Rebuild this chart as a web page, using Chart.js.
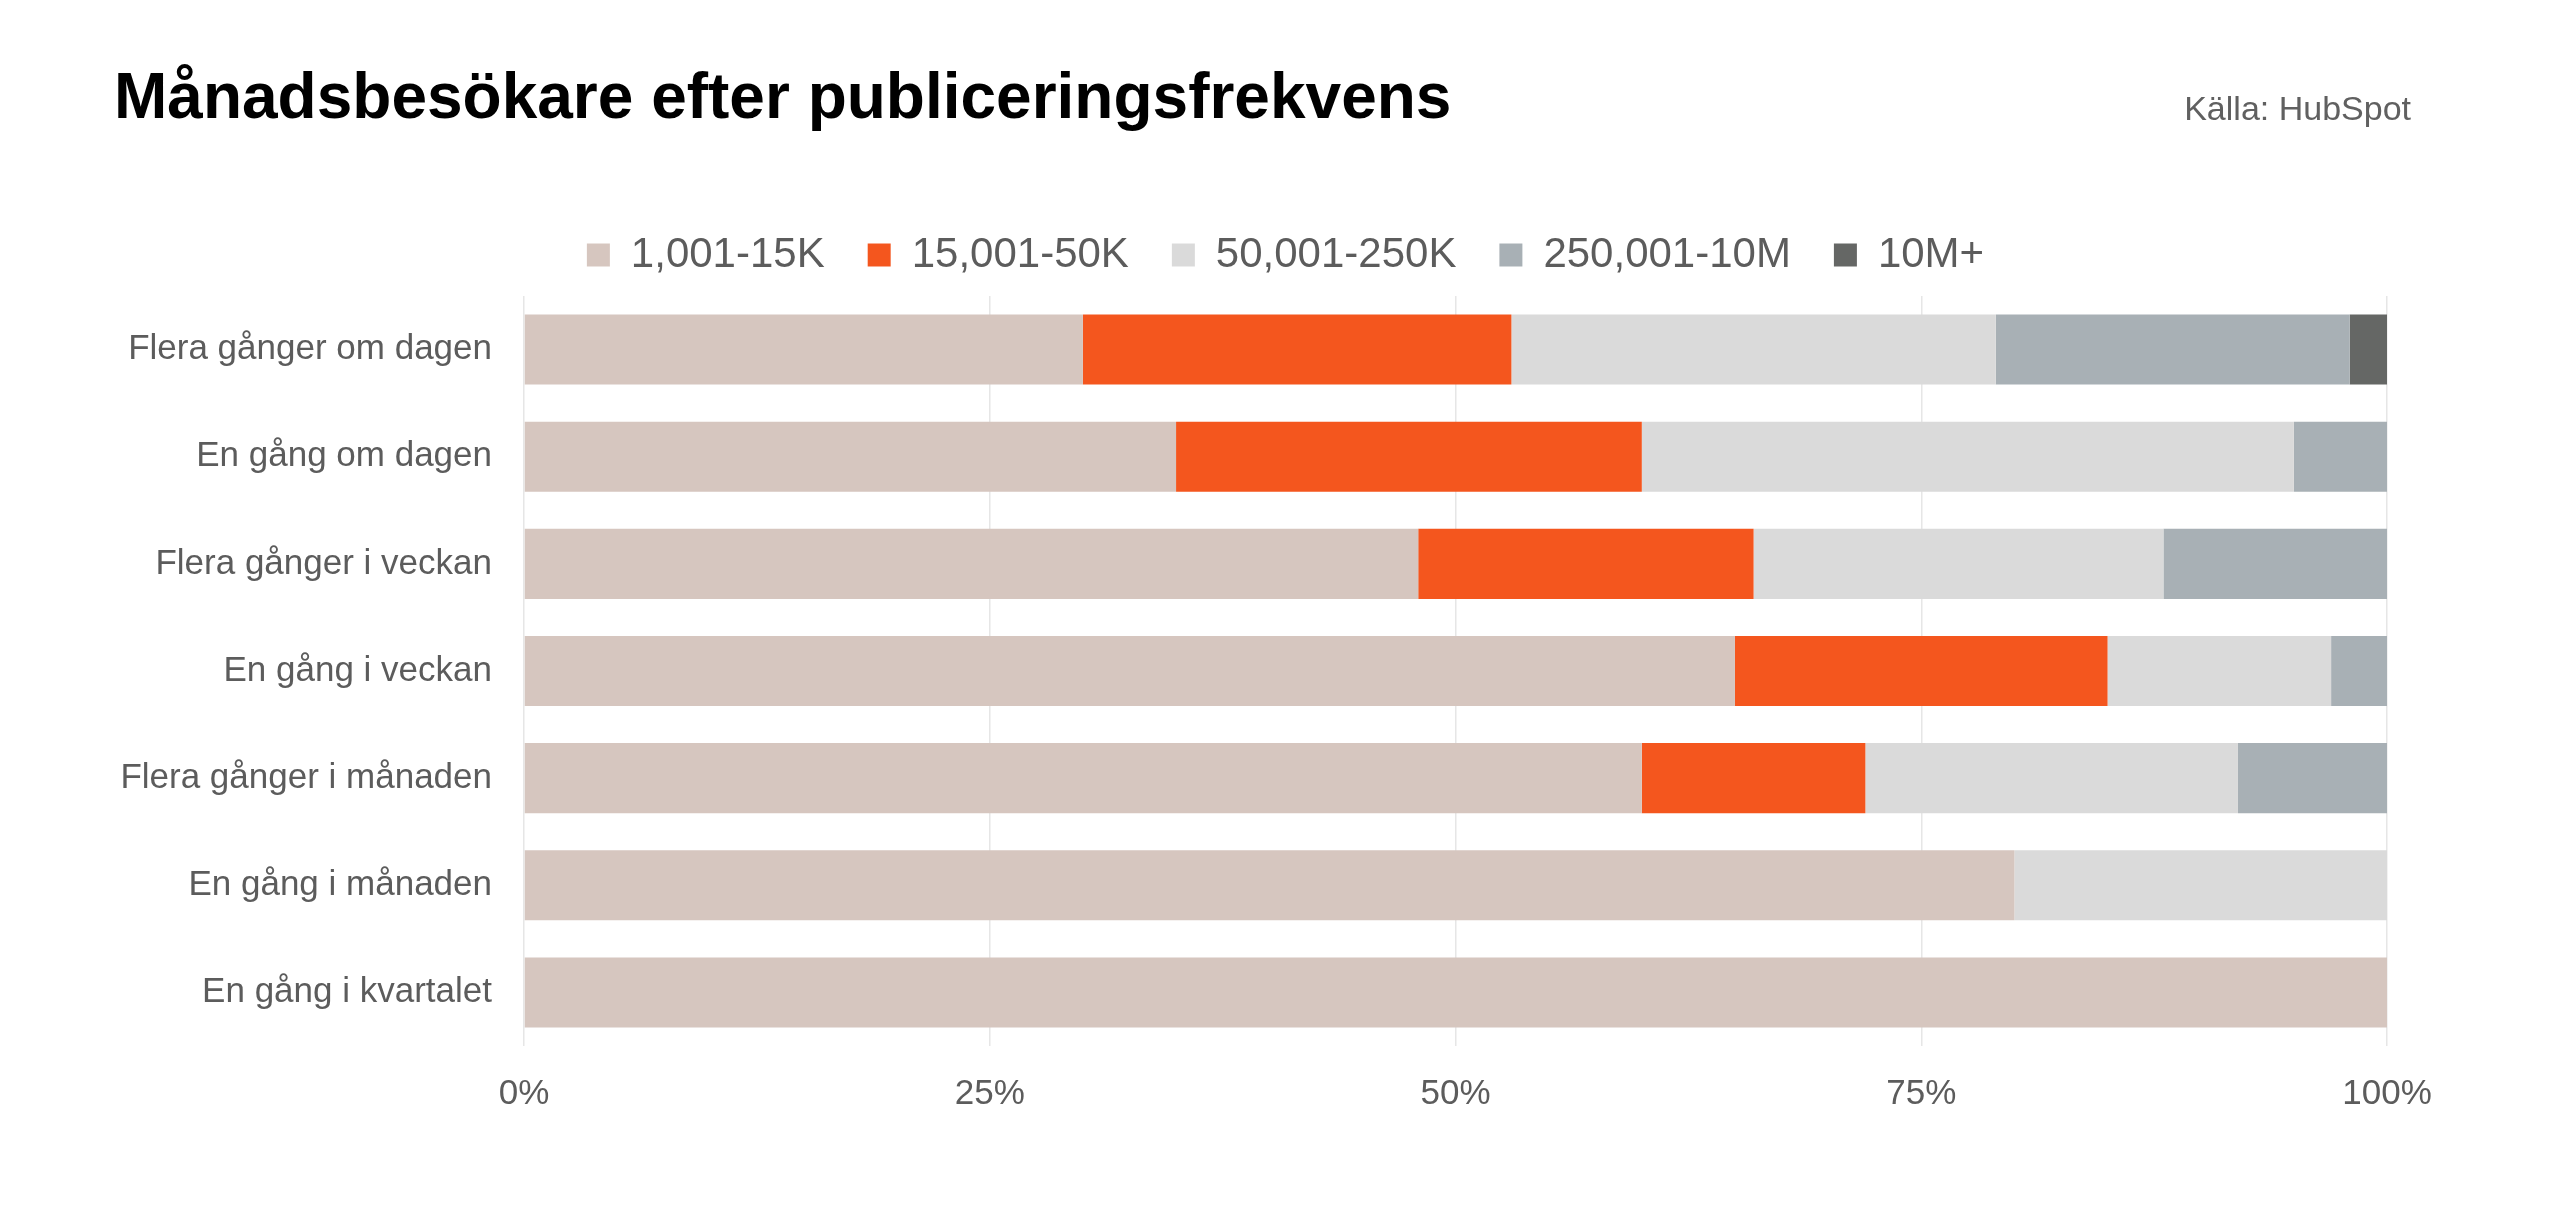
<!DOCTYPE html>
<html>
<head>
<meta charset="utf-8">
<script src="https://cdn.jsdelivr.net/npm/chart.js@4.4.1/dist/chart.umd.min.js"></script>
<style>
  html, body { margin: 0; padding: 0; background: #ffffff; }
  #wrap { position: relative; width: 2560px; height: 1211px; overflow: hidden; }
  #title { position: absolute; left: 114px; top: 64px; font: bold 64px "Liberation Sans", Arial, sans-serif; line-height: 1; color: #000; white-space: nowrap; }
  #source { position: absolute; right: 149px; top: 91px; font: 34px "Liberation Sans", Arial, sans-serif; line-height: 1; color: #606060; white-space: nowrap; }
  canvas { position: absolute; left: 0; top: 0; }
</style>
</head>
<body>
<div id="wrap">
  <canvas id="c" width="2560" height="1211"></canvas>
  <div id="title">Månadsbesökare efter publiceringsfrekvens</div>
  <div id="source">Källa: HubSpot</div>
</div>
<script>
const categories = [
  "Flera gånger om dagen",
  "En gång om dagen",
  "Flera gånger i veckan",
  "En gång i veckan",
  "Flera gånger i månaden",
  "En gång i månaden",
  "En gång i kvartalet"
];
const seriesNames = ["1,001-15K", "15,001-50K", "50,001-250K", "250,001-10M", "10M+"];
const visitors1k_15k   = [30, 35, 48, 65, 60, 80, 100];
const visitors15k_50k  = [23, 25, 18, 20, 12, 0, 0];
const visitors50k_250k = [26, 35, 22, 12, 20, 20, 0];
const visitors250k_10m = [19, 5, 12, 3, 8, 0, 0];
const visitors10mPlus  = [2, 0, 0, 0, 0, 0, 0];
const xTicks = [0, 25, 50, 75, 100];

const colors = ["#D6C6BF", "#F4561E", "#DADADA", "#A8B0B5", "#656765"];
const seriesValues = [visitors1k_15k, visitors15k_50k, visitors50k_250k, visitors250k_10m, visitors10mPlus];

const FONT = '"Liberation Sans", Arial, sans-serif';
const TEXT = '#5c5c5c';

// adds extra room below the legend row and nudges the legend row to the right
const legendTweak = {
  id: 'legendTweak',
  afterInit(chart) {
    const lg = chart.legend;
    if (!lg) return;
    const origFit = lg.fit;
    lg.fit = function () { origFit.call(this); this.height += 10; };
  },
  afterLayout(chart) {
    if (chart.legend) chart.legend.left += 84;
  }
};

new Chart(document.getElementById('c'), {
  type: 'bar',
  plugins: [legendTweak],
  data: {
    labels: categories,
    datasets: seriesNames.map((name, i) => ({
      label: name,
      data: seriesValues[i],
      backgroundColor: colors[i],
      borderWidth: 0,
      categoryPercentage: 1.0,
      barPercentage: 0.654
    }))
  },
  options: {
    indexAxis: 'y',
    responsive: false,
    animation: false,
    devicePixelRatio: 1,
    layout: { padding: { left: 100, right: 173, top: 191, bottom: 69 } },
    plugins: {
      tooltip: { enabled: false },
      legend: {
        position: 'top',
        align: 'center',
        labels: {
          boxWidth: 23,
          boxHeight: 23,
          padding: 43,
          color: TEXT,
          font: { family: FONT, size: 42 }
        }
      },
      title: { display: false }
    },
    scales: {
      x: {
        stacked: true,
        min: 0,
        max: 100,
        afterBuildTicks: (axis) => { axis.ticks = xTicks.map(v => ({ value: v })); },
        ticks: {
          padding: 27,
          color: TEXT,
          font: { family: FONT, size: 35 },
          callback: (v) => v + '%',
          maxRotation: 0
        },
        grid: { color: '#E6E6E6', lineWidth: 1.5, drawTicks: false },
        border: { display: false }
      },
      y: {
        stacked: true,
        afterFit: (axis) => { axis.width = 424; },
        ticks: {
          padding: 32,
          color: TEXT,
          font: { family: FONT, size: 35 }
        },
        grid: { display: false, drawTicks: false },
        border: { display: false }
      }
    }
  }
});
</script>
</body>
</html>
